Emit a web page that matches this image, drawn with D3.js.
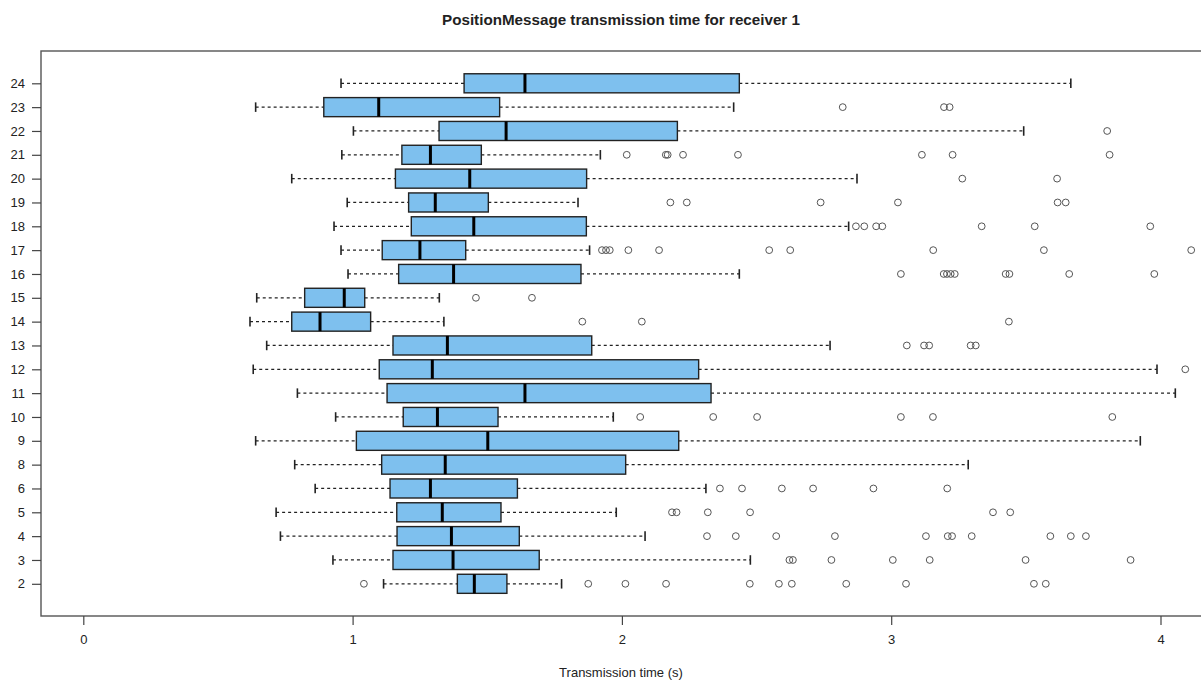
<!DOCTYPE html>
<html>
<head>
<meta charset="utf-8">
<style>
  body { margin: 0; background: #fff; }
  text { font-family: "Liberation Sans", Arial, sans-serif; fill: #222; }
</style>
</head>
<body>
<svg id="chart"></svg>

<script src="https://d3js.org/d3.v7.min.js"></script>
<script>

  // receivers, bottom to top
  var categories = [2, 3, 4, 5, 6, 8, 9, 10, 11, 12, 13, 14, 15, 16, 17, 18, 19, 20, 21, 22, 23, 24];

  var lowWhisker = [1.115, 0.927, 0.732, 0.716, 0.861, 0.785, 0.640, 0.937, 0.795, 0.631, 0.681,
                    0.619, 0.644, 0.983, 0.957, 0.931, 0.980, 0.774, 0.960, 1.003, 0.640, 0.957];
  var q1 = [1.389, 1.150, 1.165, 1.164, 1.139, 1.108, 1.014, 1.188, 1.128, 1.099, 1.150,
            0.774, 0.822, 1.171, 1.110, 1.218, 1.208, 1.159, 1.183, 1.321, 0.893, 1.414];
  var medians = [1.452, 1.373, 1.367, 1.333, 1.289, 1.344, 1.502, 1.315, 1.640, 1.296, 1.352,
                 0.879, 0.969, 1.375, 1.250, 1.450, 1.307, 1.435, 1.289, 1.570, 1.097, 1.640];
  var q3 = [1.573, 1.693, 1.619, 1.551, 1.612, 2.014, 2.211, 1.540, 2.331, 2.285, 1.888,
            1.067, 1.045, 1.848, 1.420, 1.868, 1.504, 1.869, 1.478, 2.206, 1.546, 2.436];
  var highWhisker = [1.776, 2.477, 2.086, 1.979, 2.312, 3.286, 3.925, 1.968, 4.055, 3.987, 2.773,
                     1.339, 1.322, 2.436, 1.880, 2.842, 1.837, 2.873, 1.920, 3.492, 2.415, 3.667];

  var outliers = [
    [1.042, 1.875, 2.013, 2.164, 2.475, 2.583, 2.631, 2.833, 3.055, 3.530, 3.574],        // 2
    [2.622, 2.635, 2.778, 3.006, 3.143, 3.499, 3.889],                                      // 3
    [2.316, 2.423, 2.573, 2.791, 3.129, 3.210, 3.226, 3.299, 3.591, 3.667, 3.723],        // 4
    [2.186, 2.203, 2.319, 2.476, 3.378, 3.442],                                             // 5
    [2.364, 2.446, 2.594, 2.710, 2.934, 3.208],                                             // 6
    [],                                                                                     // 8
    [],                                                                                     // 9
    [2.068, 2.339, 2.502, 3.036, 3.155, 3.821],                                             // 10
    [],                                                                                     // 11
    [4.092],                                                                                // 12
    [3.058, 3.122, 3.141, 3.295, 3.314],                                                    // 13
    [1.853, 2.074, 3.437],                                                                  // 14
    [1.458, 1.666],                                                                         // 15
    [3.036, 3.195, 3.207, 3.221, 3.236, 3.425, 3.439, 3.661, 3.977],                      // 16
    [1.926, 1.941, 1.955, 2.024, 2.138, 2.547, 2.625, 3.156, 3.567, 4.114],               // 17
    [2.869, 2.900, 2.944, 2.967, 3.336, 3.533, 3.962],                                      // 18
    [2.180, 2.241, 2.738, 3.025, 3.618, 3.648],                                             // 19
    [3.264, 3.616],                                                                         // 20
    [2.018, 2.163, 2.170, 2.227, 2.431, 3.114, 3.228, 3.811],                             // 21
    [3.802],                                                                                // 22
    [2.820, 3.196, 3.217],                                                                  // 23
    []                                                                                      // 24
  ];

  var xTicks = [0, 1, 2, 3, 4];

  var width = 1201, height = 680;
  var svg = d3.select("#chart")
    .attr("width", width)
    .attr("height", height);

  var frame = {left: 41, right: 1202, top: 51, bottom: 616};

  var xScale = d3.scaleLinear()
    .domain([0, 4])
    .range([83.3, 1160.5]);

  var yScale = d3.scalePoint()
    .domain(categories)
    .range([583.8, 83.3]);

  var boxH = yScale.step() * 0.8;

  var boxes = categories.map(function(c, i) {
    return {cat: c, lo: lowWhisker[i], q1: q1[i], med: medians[i], q3: q3[i], hi: highWhisker[i], out: outliers[i]};
  });

  // whiskers
  var g = svg.append("g");

  g.selectAll("line.wlo")
    .data(boxes)
    .enter().append("line")
    .attr("x1", function(d) { return xScale(d.lo); })
    .attr("x2", function(d) { return xScale(d.q1); })
    .attr("y1", function(d) { return yScale(d.cat); })
    .attr("y2", function(d) { return yScale(d.cat); })
    .attr("stroke", "#222")
    .attr("stroke-width", 1.3)
    .attr("stroke-dasharray", "3,3");

  g.selectAll("line.whi")
    .data(boxes)
    .enter().append("line")
    .attr("x1", function(d) { return xScale(d.q3); })
    .attr("x2", function(d) { return xScale(d.hi); })
    .attr("y1", function(d) { return yScale(d.cat); })
    .attr("y2", function(d) { return yScale(d.cat); })
    .attr("stroke", "#222")
    .attr("stroke-width", 1.3)
    .attr("stroke-dasharray", "3,3");

  // staples
  ["lo", "hi"].forEach(function(k) {
    g.selectAll("line.staple-" + k)
      .data(boxes)
      .enter().append("line")
      .attr("x1", function(d) { return xScale(d[k]); })
      .attr("x2", function(d) { return xScale(d[k]); })
      .attr("y1", function(d) { return yScale(d.cat) - boxH / 4; })
      .attr("y2", function(d) { return yScale(d.cat) + boxH / 4; })
      .attr("stroke", "#222")
      .attr("stroke-width", 1.6);
  });

  // boxes
  g.selectAll("rect.box")
    .data(boxes)
    .enter().append("rect")
    .attr("x", function(d) { return xScale(d.q1); })
    .attr("y", function(d) { return yScale(d.cat) - boxH / 2; })
    .attr("width", function(d) { return xScale(d.q3) - xScale(d.q1); })
    .attr("height", boxH)
    .attr("fill", "#7EC0EE")
    .attr("stroke", "#222")
    .attr("stroke-width", 1.4);

  // medians
  g.selectAll("line.med")
    .data(boxes)
    .enter().append("line")
    .attr("x1", function(d) { return xScale(d.med); })
    .attr("x2", function(d) { return xScale(d.med); })
    .attr("y1", function(d) { return yScale(d.cat) - boxH / 2; })
    .attr("y2", function(d) { return yScale(d.cat) + boxH / 2; })
    .attr("stroke", "#000")
    .attr("stroke-width", 3);

  // outliers
  var pts = [];
  boxes.forEach(function(d) {
    d.out.forEach(function(v) { pts.push({cat: d.cat, v: v}); });
  });

  g.selectAll("circle")
    .data(pts)
    .enter().append("circle")
    .attr("cx", function(d) { return xScale(d.v); })
    .attr("cy", function(d) { return yScale(d.cat); })
    .attr("r", 3.4)
    .attr("fill", "none")
    .attr("stroke", "#555")
    .attr("stroke-width", 1);

  // frame
  svg.append("rect")
    .attr("x", frame.left)
    .attr("y", frame.top)
    .attr("width", frame.right - frame.left)
    .attr("height", frame.bottom - frame.top)
    .attr("fill", "none")
    .attr("stroke", "#555")
    .attr("stroke-width", 1.4);

  // y axis
  var yAxis = d3.axisLeft(yScale).tickSize(9).tickPadding(7);
  var ya = svg.append("g")
    .attr("transform", "translate(" + frame.left + ",0)")
    .call(yAxis);
  ya.select(".domain").remove();
  ya.selectAll("line").attr("stroke", "#444").attr("stroke-width", 1.2);
  ya.selectAll("text").attr("font-size", 13).attr("font-family", "Liberation Sans, Arial, sans-serif").attr("fill", "#333");

  // x axis
  var xAxis = d3.axisBottom(xScale).tickValues(xTicks).tickFormat(d3.format("d")).tickSize(9).tickPadding(10);
  var xa = svg.append("g")
    .attr("transform", "translate(0," + frame.bottom + ")")
    .call(xAxis);
  xa.select(".domain").remove();
  xa.selectAll("line").attr("stroke", "#444").attr("stroke-width", 1.2);
  xa.selectAll("text").attr("font-size", 13).attr("font-family", "Liberation Sans, Arial, sans-serif").attr("fill", "#333");

  // titles
  svg.append("text")
    .attr("x", 621)
    .attr("y", 25)
    .attr("text-anchor", "middle")
    .attr("font-size", 15.2)
    .attr("font-weight", "bold")
    .attr("fill", "#111")
    .text("PositionMessage transmission time for receiver 1");

  svg.append("text")
    .attr("x", 621)
    .attr("y", 677)
    .attr("text-anchor", "middle")
    .attr("font-size", 13)
    .attr("fill", "#333")
    .text("Transmission time (s)");

</script>
</body>
</html>
